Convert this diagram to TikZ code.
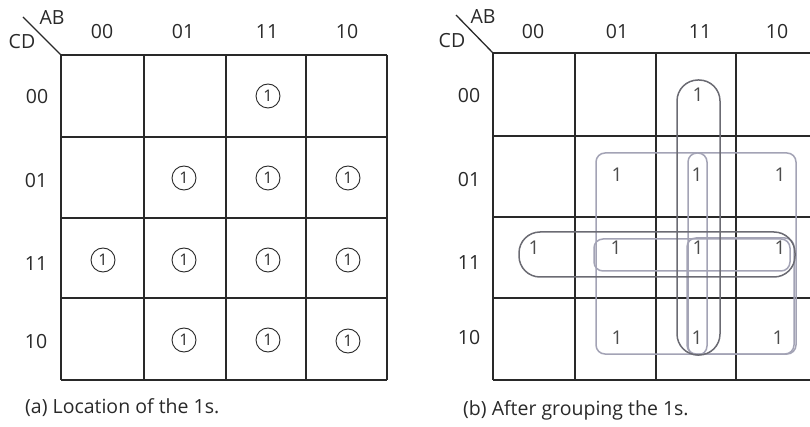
\documentclass[tikz,border=0pt]{standalone}
\usepackage{fontspec}
\setmainfont{Open Sans}
\definecolor{ink}{rgb}{0.16,0.16,0.16}
\definecolor{grpdk}{rgb}{0.42,0.42,0.45}
\definecolor{grplt}{rgb}{0.64,0.64,0.71}
\begin{document}
\begin{tikzpicture}[x=1pt,y=-1pt,
  gridline/.style={draw=ink, line width=1.3pt},
  lab/.style={font=\fontsize{19.5}{19.5}\selectfont, text=ink, inner sep=0pt},
  captext/.style={font=\fontsize{19.5}{19.5}\selectfont, text=ink, inner sep=0pt, anchor=west},
  circone/.style={circle, draw=ink, line width=0.9pt, minimum size=24pt, inner sep=0pt, text=ink, font=\fontsize{16}{16}\selectfont},
  one/.style={font=\fontsize{19}{19}\selectfont, text=black!70, inner sep=0pt},
  grpdark/.style={draw=grpdk, line width=1.5pt},
  grplight/.style={draw=grplt, line width=1.5pt}]
\useasboundingbox (0,0) rectangle (810,427);

% ---------- left map ----------
\foreach \x in {61,144,226,306,387} \draw[gridline] (\x,55) -- (\x,380);
\foreach \y in {55,137,218,298,380} \draw[gridline] (61,\y) -- (387,\y);
\coordinate (lda) at (23,17);
\coordinate (ldb) at (61,55);
\draw[ink, line width=1.3pt] (lda) -- (ldb);
\node[lab] (lAB) at (52,18) {AB};
\node[lab] (lCD) at (22,42) {CD};
\node[lab] (lc1) at (102,32) {00};
\node[lab] (lc2) at (183,32) {01};
\node[lab] (lc3) at (267,32) {11};
\node[lab] (lc4) at (347,32) {10};
\node[lab] (lr1) at (37,97) {00};
\node[lab] (lr2) at (36,181) {01};
\node[lab] (lr3) at (36,264) {11};
\node[lab] (lr4) at (36,342) {10};
\node[circone] (a1) at (268,96) {1};
\node[circone] (a2) at (184,178) {1};
\node[circone] (a3) at (268,178) {1};
\node[circone] (a4) at (348,178) {1};
\node[circone] (a5) at (103,260) {1};
\node[circone] (a6) at (184,260) {1};
\node[circone] (a7) at (268,260) {1};
\node[circone] (a8) at (348,260) {1};
\node[circone] (a9) at (184,340) {1};
\node[circone] (a10) at (268,340) {1};
\node[circone] (a11) at (348,341) {1};
\node[captext] (capa) at (25,408) {(a) Location of the 1s.};

% ---------- right map ----------
\foreach \x in {493,575,656,736,817} \draw[gridline] (\x,53) -- (\x,380);
\foreach \y in {53,136,217,298,380} \draw[gridline] (493,\y) -- (817,\y);
\coordinate (rda) at (456,15);
\coordinate (rdb) at (493,53);
\draw[ink, line width=1.3pt] (rda) -- (rdb);
\node[lab] (rAB) at (483,17) {AB};
\node[lab] (rCD) at (452,41) {CD};
\node[lab] (rc1) at (533,32) {00};
\node[lab] (rc2) at (617,32) {01};
\node[lab] (rc3) at (700,32) {11};
\node[lab] (rc4) at (777,32) {10};
\node[lab] (rr1) at (469,96) {00};
\node[lab] (rr2) at (469,180) {01};
\node[lab] (rr3) at (469,263) {11};
\node[lab] (rr4) at (469,338) {10};

% groups
\draw[grplight, rounded corners=9pt] (596,153) rectangle (796,354);
\draw[grplight, rounded corners=9pt] (687,238) rectangle (794,354);
\draw[grplight, rounded corners=9pt] (594,239) rectangle (790,271);
\draw[grplight, rounded corners=9pt] (688,153) rectangle (707,355);
\draw[grpdark, rounded corners=21pt] (677,80) rectangle (720,355);
\draw[grpdark, rounded corners=21pt] (519,232) -- (795,232) -- (795,277) -- (519,277) -- cycle;

\node[one] (b1) at (698,95) {1};
\node[one] (b2) at (617,175) {1};
\node[one] (b3) at (697,175) {1};
\node[one] (b4) at (780,175) {1};
\node[one] (b5) at (534,248) {1};
\node[one] (b6) at (616,248) {1};
\node[one] (b7) at (698,248) {1};
\node[one] (b8) at (780,248) {1};
\node[one] (b9) at (617,338) {1};
\node[one] (b10) at (697,338) {1};
\node[one] (b11) at (778,338) {1};
\node[captext] (capb) at (463,410) {(b) After grouping the 1s.};
\end{tikzpicture}
\end{document}
